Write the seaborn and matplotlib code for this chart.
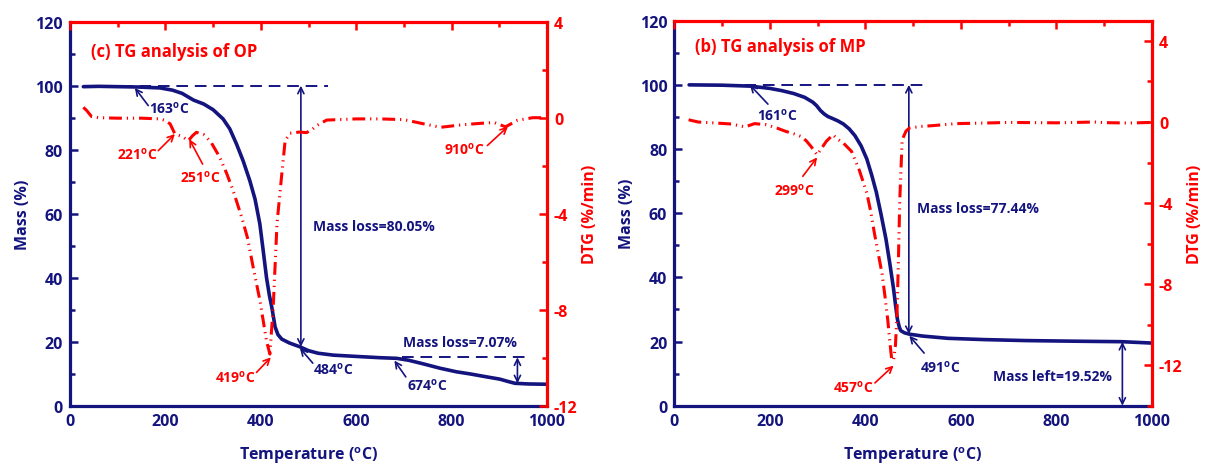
import matplotlib
matplotlib.use("Agg")
import matplotlib.pyplot as plt
from matplotlib.ticker import MultipleLocator
import seaborn as sns

NAVY = "#14147f"
RED = "#ff0000"

# ---- OP sample: thermogravimetric mass (%) and derivative (%/min) ----
op_tg_temp = [28, 60, 100, 140, 189, 215, 235, 259, 280, 300, 321, 335, 349, 363,
              377, 388, 398, 405, 412, 418, 423, 430, 436, 444, 460, 482, 500, 520,
              552, 600, 650, 685, 710, 740, 776, 810, 840, 870, 901, 920, 933, 960, 1000]
op_tg_mass = [99.7, 99.8, 99.7, 99.6, 99.3, 98.6, 97.6, 95.5, 94.3, 92.5, 89.6, 86.5,
              81.8, 76.5, 70.3, 64.5, 56.8, 48.5, 40.0, 34.5, 30.8, 24.6, 22.2, 20.8,
              19.6, 18.4, 17.2, 16.4, 15.8, 15.4, 15.0, 14.8, 14.2, 13.1, 11.7, 10.6,
              9.9, 9.1, 8.3, 7.5, 7.0, 6.8, 6.7]
op_dtg_temp = [28, 35, 45, 60, 100, 150, 189, 200, 210, 220, 235, 248, 257, 265, 280,
               295, 314, 328, 342, 360, 372, 384, 398, 412, 419, 426, 434, 444, 451,
               461, 480, 496, 507, 517, 538, 600, 650, 700, 740, 777, 820, 857, 889,
               913, 938, 970, 1000]
op_dtg_rate = [0.43, 0.3, 0.05, 0.0, -0.02, -0.02, -0.05, -0.12, -0.26, -0.68, -0.78,
               -0.96, -0.75, -0.61, -0.70, -1.0, -1.65, -2.3, -3.04, -4.15, -5.0, -6.23,
               -7.6, -9.3, -9.85, -7.9, -4.4, -2.35, -0.96, -0.65, -0.6, -0.62, -0.5,
               -0.33, -0.1, -0.05, -0.05, -0.08, -0.25, -0.4, -0.3, -0.24, -0.2, -0.38,
               -0.11, 0.0, 0.0]

# ---- MP sample ----
mp_tg_temp = [31, 100, 160, 200, 225, 250, 273, 290, 298, 306, 314, 322, 330, 342,
              354, 366, 378, 391, 403, 413, 423, 433, 443, 451, 459, 463, 467, 471,
              474, 482, 492, 520, 573, 650, 735, 840, 937, 1000]
mp_tg_mass = [100.0, 99.9, 99.6, 98.9, 98.2, 97.3, 96.1, 94.6, 93.5, 92.0, 90.9, 90.1,
              89.6, 88.8, 87.8, 86.3, 84.2, 81.0, 76.9, 72.0, 66.5, 59.5, 52.0, 44.5,
              36.4, 31.5, 27.0, 24.5, 23.4, 22.7, 22.3, 21.7, 21.0, 20.6, 20.3, 20.1,
              19.95, 19.52]
mp_dtg_temp = [30, 50, 87, 120, 148, 168, 192, 215, 233, 250, 265, 276, 286, 299, 318,
               332, 342, 354, 371, 387, 403, 411, 419, 427, 435, 441, 447, 451, 455,
               459, 463, 466, 469, 472, 477, 485, 492, 515, 540, 589, 650, 700, 800,
               880, 900, 950, 1000]
mp_dtg_rate = [0.11, 0.0, -0.05, -0.1, -0.24, -0.08, -0.13, -0.3, -0.46, -0.58, -0.71,
               -0.92, -1.2, -1.62, -0.96, -0.63, -0.85, -1.04, -1.45, -2.36, -3.5, -4.4,
               -5.5, -6.5, -7.5, -8.6, -9.8, -10.8, -11.7, -11.77, -11.0, -9.6, -7.0,
               -3.85, -0.88, -0.45, -0.3, -0.22, -0.18, -0.08, -0.05, -0.02, -0.04,
               0.0, -0.03, -0.05, -0.02]

sns.set_theme(style="white")
FONT = "Open Sans"
plt.rcParams.update({
    "font.family": [FONT, "DejaVu Sans"],
    "font.weight": "bold",
    "axes.labelweight": "bold",
    "axes.unicode_minus": False,
    "mathtext.fontset": "custom",
    "mathtext.rm": FONT + ":bold",
    "mathtext.it": FONT + ":bold",
    "mathtext.bf": FONT + ":bold",
})

W, H = 1206, 464
fig = plt.figure(figsize=(W / 100, H / 100), dpi=100)
ax_op = fig.add_axes([70 / W, 1 - 406.7 / H, 477 / W, 384 / H])
ax_mp = fig.add_axes([674.3 / W, 1 - 406.7 / H, 477.7 / W, 385 / H])

DEG = r"$^\mathregular{o}$C"
DTG_DASH = (0, (4.2, 1.6, 0.4, 1.6, 0.4, 1.6))
TICK_FS = 11.5
LABEL_FS = 11.5
NOTE_FS = 10


def draw_panel(ax, tg_t, tg_m, dtg_t, dtg_r, dtg_lim):
    sns.lineplot(x=tg_t, y=tg_m, ax=ax, color=NAVY, lw=2.6, sort=False, estimator=None)
    ax2 = ax.twinx()
    sns.lineplot(x=dtg_t, y=dtg_r, ax=ax2, color=RED, lw=2.2, sort=False, estimator=None)
    ax2.lines[0].set_linestyle(DTG_DASH)

    ax.set_xlim(0, 1000)
    ax.set_ylim(0, 120)
    ax2.set_ylim(*dtg_lim)

    ax.xaxis.set_major_locator(MultipleLocator(200))
    ax.xaxis.set_minor_locator(MultipleLocator(100))
    ax.yaxis.set_major_locator(MultipleLocator(20))
    ax.yaxis.set_minor_locator(MultipleLocator(10))
    ax2.yaxis.set_major_locator(MultipleLocator(4))
    ax2.yaxis.set_minor_locator(MultipleLocator(2))

    for side in ("left", "bottom"):
        ax.spines[side].set_color(NAVY)
        ax.spines[side].set_linewidth(2.3)
    for side in ("top", "right"):
        ax.spines[side].set_visible(False)
    for side in ("top", "right"):
        ax2.spines[side].set_color(RED)
        ax2.spines[side].set_linewidth(2.3)
    for side in ("left", "bottom"):
        ax2.spines[side].set_visible(False)

    ax.tick_params(axis="both", which="both", direction="in", colors=NAVY,
                   width=1.8, labelsize=TICK_FS, top=False, right=False, pad=5)
    ax.tick_params(which="major", length=6)
    ax.tick_params(which="minor", length=3.5)

    ax2.xaxis.set_visible(True)
    ax2.tick_params(axis="x", which="both", direction="in", top=True, bottom=False,
                    labeltop=False, labelbottom=False, color=RED, width=1.8)
    ax2.tick_params(axis="y", which="both", direction="in", colors=RED,
                    width=1.8, labelsize=TICK_FS, pad=5)
    ax2.tick_params(which="major", length=6)
    ax2.tick_params(which="minor", length=3.5)
    for lab in ax.get_xticklabels() + ax.get_yticklabels() + ax2.get_yticklabels():
        lab.set_fontweight("bold")

    ax.set_xlabel("Temperature (" + DEG + ")", color=NAVY, fontsize=LABEL_FS, labelpad=11)
    ax.set_ylabel("Mass (%)", color=NAVY, fontsize=LABEL_FS, labelpad=3)
    ax2.set_ylabel("DTG (%/min)", color=RED, fontsize=LABEL_FS, labelpad=3)
    return ax2


def note(ax, text, pos, color, size=NOTE_FS):
    ax.text(pos[0], pos[1], text, color=color, fontsize=size, fontweight="bold",
            ha="left", va="center")


def pointer(ax, head, tail, color, style="->"):
    ax.annotate("", xy=head, xytext=tail,
                arrowprops=dict(arrowstyle=style, color=color, lw=1.2,
                                shrinkA=0, shrinkB=0, mutation_scale=11))


def guide(ax, x0, x1, y):
    sns.lineplot(x=[x0, x1], y=[y, y], ax=ax, color=NAVY, lw=1.4, estimator=None)
    ax.lines[-1].set_linestyle((0, (6, 3.5)))


# ---------------- OP panel ----------------
ax2_op = draw_panel(ax_op, op_tg_temp, op_tg_mass, op_dtg_temp, op_dtg_rate, (-12, 4))
ax_op.text(0.044, 0.924, "(c) TG analysis of OP", transform=ax_op.transAxes,
           color=RED, fontsize=12, fontweight="bold", ha="left", va="center")
guide(ax_op, 30, 540, 100)
pointer(ax_op, (484, 18.4), (484, 100), NAVY, "<->")
guide(ax_op, 696, 958, 15.1)
pointer(ax_op, (938, 7.0), (938, 15.1), NAVY, "<->")

note(ax_op, "163" + DEG, (166, 93.3), NAVY)
pointer(ax_op, (136, 99.3), (164, 93.8), NAVY)
note(ax_op, "221" + DEG, (99, 78.7), RED)
pointer(ax_op, (220, 84.9), (185, 79.7), RED)
note(ax_op, "251" + DEG, (231, 71.5), RED)
pointer(ax_op, (250, 83.3), (278, 75.5), RED)
note(ax_op, "419" + DEG, (304, 9.0), RED)
pointer(ax_op, (421, 15.1), (391, 10.4), RED)
note(ax_op, "484" + DEG, (509, 11.5), NAVY)
pointer(ax_op, (482, 18.0), (509, 13.3), NAVY)
note(ax_op, "Mass loss=80.05%", (509, 56.3), NAVY)
note(ax_op, "674" + DEG, (706, 6.6), NAVY)
pointer(ax_op, (680, 14.1), (704, 9.0), NAVY)
note(ax_op, "Mass loss=7.07%", (698, 19.8), NAVY)
note(ax_op, "910" + DEG, (784, 80.2), RED)
pointer(ax_op, (918, 87.2), (875, 81.3), RED)

# ---------------- MP panel ----------------
ax2_mp = draw_panel(ax_mp, mp_tg_temp, mp_tg_mass, mp_dtg_temp, mp_dtg_rate, (-14, 5))
ax_mp.text(0.043, 0.934, "(b) TG analysis of MP", transform=ax_mp.transAxes,
           color=RED, fontsize=12, fontweight="bold", ha="left", va="center")
guide(ax_mp, 30, 531, 100)
pointer(ax_mp, (491, 22.3), (491, 100), NAVY, "<->")
pointer(ax_mp, (938, 0), (938, 19.9), NAVY, "<->")

note(ax_mp, "161" + DEG, (173, 90.6), NAVY)
pointer(ax_mp, (158, 100), (196, 94.0), NAVY)
note(ax_mp, "299" + DEG, (209, 67.3), RED)
pointer(ax_mp, (299, 77.4), (269, 71.5), RED)
note(ax_mp, "457" + DEG, (332, 6.05), RED)
pointer(ax_mp, (459, 12.5), (420, 7.1), RED)
note(ax_mp, "491" + DEG, (514, 12.3), NAVY)
pointer(ax_mp, (492, 21.8), (523, 16.4), NAVY)
note(ax_mp, "Mass loss=77.44%", (508, 61.6), NAVY)
note(ax_mp, "Mass left=19.52%", (668, 9.35), NAVY)

fig.savefig("out.png", dpi=100)
